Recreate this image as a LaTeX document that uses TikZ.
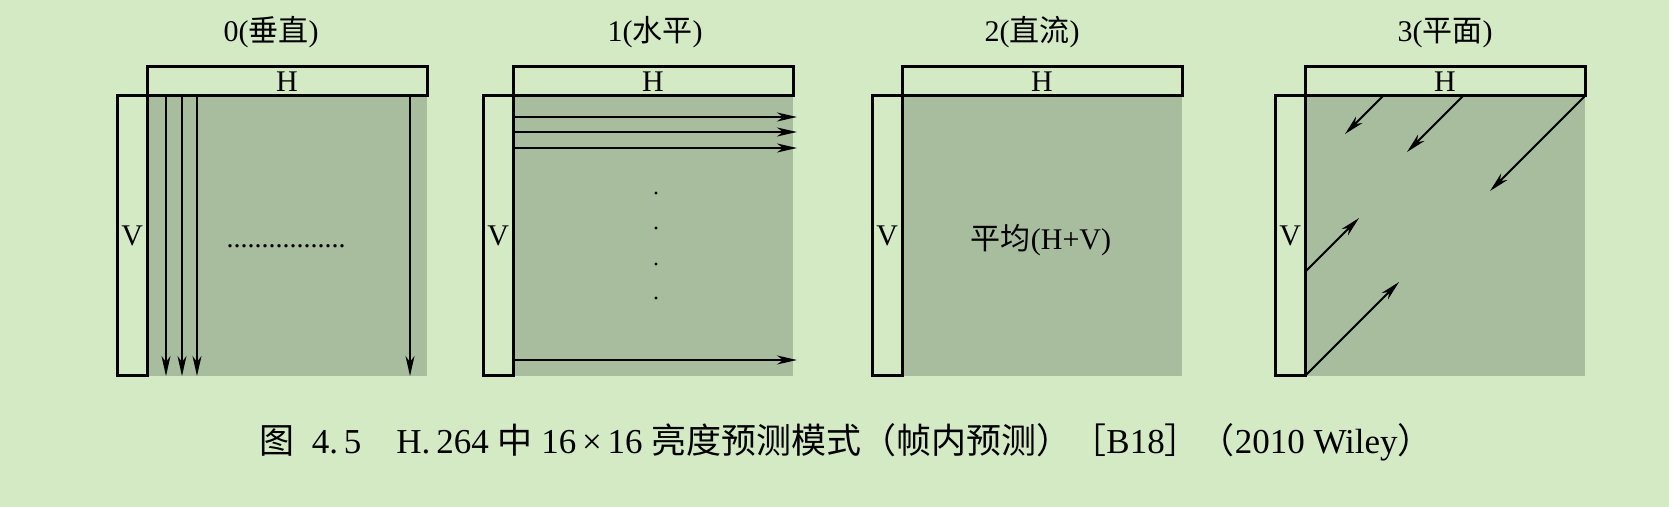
\documentclass[tikz,border=0pt]{standalone}
\usepackage{fontspec}
\setmainfont{Liberation Serif}
\newfontfamily\cjk{Noto Sans CJK SC}
\usetikzlibrary{arrows.meta,calc}
\definecolor{paper}{RGB}{212,234,197}
\definecolor{block}{RGB}{168,188,158}

\begin{document}
\begin{tikzpicture}[x=0.5pt, y=-0.5pt,
  every node/.style={font=\fontsize{15}{18}\selectfont, inner sep=0pt, outer sep=0pt},
  sq/.style={fill=block, minimum width=140pt, minimum height=140pt},
  hbox/.style={draw, line width=1.5pt, fill=paper, minimum width=140pt, minimum height=14.75pt, anchor=south west},
  vbox/.style={draw, line width=1.5pt, fill=paper, minimum width=14.75pt, minimum height=140pt, anchor=north east},
  arr/.style={line width=0.9pt, -{Stealth[length=10pt, width=4.5pt, inset=3pt]}}]

% page
\fill[paper] (0,0) rectangle (1669,507);
\useasboundingbox (0,0) rectangle (1669,507);

% 0: vertical
\node[sq] (g0) at (287,236) {};
\node[hbox] (h0) at (g0.north west) {H};
\node[vbox] (v0) at (g0.north west) {V};
\node[anchor=base] (t0) at (271,42) {0({\cjk 垂直})};
\foreach \dx in {19,35,50,263}
  \draw[arr] ($(g0.north west)+(\dx,0)$) -- ($(g0.south west)+(\dx,0)$);
\node[anchor=base, font=\fontsize{14}{16}\selectfont] (d0) at ($(g0.north west)+(139,151.5)$) {.................};

% 1: horizontal
\node[sq] (g1) at (653,236) {};
\node[hbox] (h1) at (g1.north west) {H};
\node[vbox] (v1) at (g1.north west) {V};
\node[anchor=base] (t1) at (655,42) {1({\cjk 水平})};
\foreach \dy in {21,36,52,264}
  \draw[arr] ($(g1.north west)+(0,\dy)$) -- ($(g1.north east)+(4,\dy)$);
\foreach \dy in {97,132,168,202}
  \fill ($(g1.north west)+(143,\dy)$) circle[radius=0.8pt];

% 2: DC
\node[sq] (g2) at (1042,236) {};
\node[hbox] (h2) at (g2.north west) {H};
\node[vbox] (v2) at (g2.north west) {V};
\node[anchor=base] (t2) at (1032,42) {2({\cjk 直流})};
\node[anchor=base] (m2) at ($(g2.north west)+(139,154)$) {{\cjk 平均}(H+V)};

% 3: plane
\node[sq] (g3) at (1445,236) {};
\node[hbox] (h3) at (g3.north west) {H};
\node[vbox] (v3) at (g3.north west) {V};
\node[anchor=base] (t3) at (1445,42) {3({\cjk 平面})};
\draw[arr] ($(g3.north west)+(78,0)$) -- ++(-38,38);
\draw[arr] ($(g3.north west)+(158,0)$) -- ++(-56,56);
\draw[arr] (g3.north east) -- ++(-95,95);
\draw[arr] ($(g3.north west)+(0,176)$) -- ++(54,-54);
\draw[arr] (g3.south west) -- ++(94,-94);

% caption
\node[anchor=base, font=\fontsize{17.5}{21}\selectfont] (cap) at (846,453) {{\cjk 图}\enspace 4.\,5\quad H.\,264 {\cjk 中} 16\,×\,16 {\cjk 亮度预测模式（帧内预测）［}B18{\cjk ］（}2010 Wiley{\cjk ）}};
\end{tikzpicture}
\end{document}
